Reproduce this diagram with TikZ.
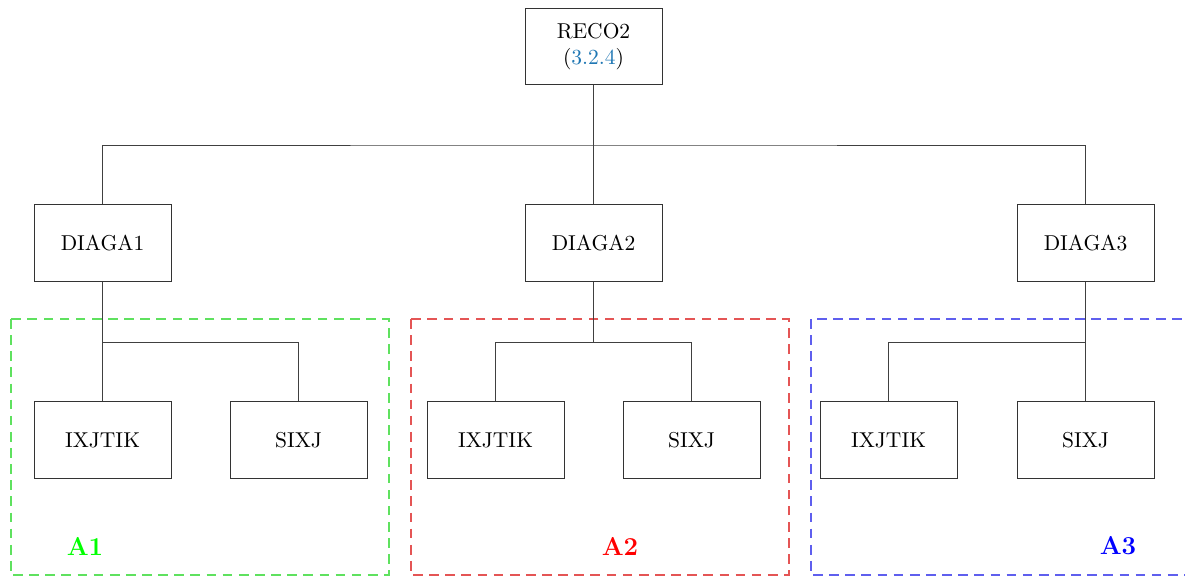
\documentclass[tikz,border=0pt]{standalone}
\definecolor{linkblue}{RGB}{31,119,180}
\definecolor{frgreen}{RGB}{95,225,95}
\definecolor{frred}{RGB}{228,85,85}
\definecolor{frblue}{RGB}{95,95,238}
\begin{document}
\begin{tikzpicture}[x=0.465pt,y=-0.465pt,
  box/.style={draw=black!80,line width=0.45pt,minimum width=63.7pt,minimum height=35.6pt,inner sep=0pt,align=center,fill=white},
  conn/.style={draw=black!75,line width=0.45pt},
  grp/.style={line width=0.5pt,dash pattern=on 4.5pt off 3pt},
  lab/.style={font=\bfseries\large}]
\useasboundingbox (0,0) rectangle (1185,576);
\clip (0,0) rectangle (1185,576);
% group frames
\draw[grp,color=frgreen] (11,319) rectangle (389,575);
\draw[grp,color=frred] (411,319) rectangle (789,575);
\draw[grp,color=frblue] (811,319) rectangle (1200,575);
% nodes
\node[box] (reco) at (593.5,46.5) {RECO2\\(\textcolor{linkblue}{3.2.4})};
\node[box] (d1) at (102.5,243) {DIAGA1};
\node[box] (d2) at (593.5,243) {DIAGA2};
\node[box] (d3) at (1085.5,243) {DIAGA3};
\node[box] (i1) at (102.5,440) {IXJTIK};
\node[box] (s1) at (298.5,440) {SIXJ};
\node[box] (i2) at (495.5,440) {IXJTIK};
\node[box] (s2) at (691.5,440) {SIXJ};
\node[box] (i3) at (888.5,440) {IXJTIK};
\node[box] (s3) at (1085.5,440) {SIXJ};
% connectors
\coordinate (b0) at (593.5,145);
\coordinate (b1) at (102.5,342);
\coordinate (b2) at (593.5,342);
\coordinate (b3) at (1085.5,342);
\draw[conn] (reco.south) -- (b0);
\draw[conn] (d1.north) |- (b0) -| (d3.north);
\draw[conn] (b0) -- (d2.north);
\draw[conn] (d1.south) -- (b1) -- (i1.north);
\draw[conn] (b1) -| (s1.north);
\draw[conn] (d2.south) -- (b2);
\draw[conn] (i2.north) |- (b2) -| (s2.north);
\draw[conn] (d3.south) -- (b3) -- (s3.north);
\draw[conn] (b3) -| (i3.north);
% labels
\node[lab,text=green] (a1) at (85,546) {A1};
\node[lab,text=red] (a2) at (620,546) {A2};
\node[lab,text=blue] (a3) at (1118,546) {A3};
\end{tikzpicture}
\end{document}
